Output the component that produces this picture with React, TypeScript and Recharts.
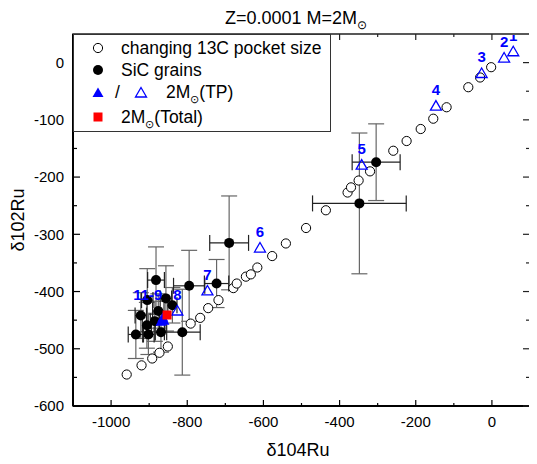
import React from "react";
import { ScatterChart, Scatter, XAxis, YAxis, ErrorBar, ReferenceArea } from "recharts";

// changing 13C pocket size (open circles)
const pocketSize: [number, number][] = [
  [-959, -545], [-920, -529], [-892, -517], [-873, -507], [-851, -496],
  [-791, -456], [-766, -446], [-745, -429], [-718, -415], [-679, -394],
  [-670, -386], [-646, -374], [-633, -370], [-616, -358], [-577, -338],
  [-541, -316], [-488, -289], [-436, -258], [-379, -227], [-370, -218],
  [-350, -206], [-320, -190], [-259, -154], [-224, -137], [-187, -116],
  [-154, -98], [-119, -78], [-62, -43], [-31, -26], [-2, -8],
];

// SiC grains: x, y, x error, y error
const sicGrains: [number, number, number, number][] = [
  [-882, -380, 22, 58], [-795, -390, 41, 62], [-905, -415, 15, 55],
  [-856, -412, 15, 57], [-839, -424, 12, 31], [-876, -434, 15, 30],
  [-922, -442, 15, 40], [-906, -459, 12, 40], [-885, -452, 12, 35],
  [-935, -475, 20, 42], [-902, -475, 15, 35], [-869, -471, 15, 35],
  [-813, -471, 47, 75], [-690, -315, 51, 82], [-723, -386, 32, 42],
  [-304, -174, 63, 67], [-348, -246, 123, 123],
];

// 2M TP (open triangles, numbered)
const tpOpen = [
  { x: 56, y: 19, label: "1" }, { x: 32, y: 8, label: "2" },
  { x: -27, y: -19, label: "3" }, { x: -147, y: -76, label: "4" },
  { x: -342, y: -179, label: "5" }, { x: -609, y: -324, label: "6" },
  { x: -747, y: -399, label: "7" }, { x: -826, y: -434, label: "8" },
];

// TP 9-11 (filled triangles)
const tpFilled = [
  { x: -864, y: -446, label: "11-9" }, { x: -869, y: -453, label: "" },
  { x: -861, y: -451, label: "" },
];

const total = [{ x: -853, y: -441 }];

const xTicks = [-1000, -900, -800, -700, -600, -500, -400, -300, -200, -100, 0];
const xLabels = [-1000, -800, -600, -400, -200, 0];
const yTicks = [-600, -550, -500, -450, -400, -350, -300, -250, -200, -150, -100, -50, 0];
const yLabels = [-600, -500, -400, -300, -200, -100, 0];

const F = '"Liberation Sans", Arial, Helvetica, sans-serif';
const W = 529;
const H = 456;
const TOP = 26;
const LEFT = 65;
const PH = 372;
const PW = 457;
const BLUE = "#0000ff";

const pocketData = pocketSize.map(([x, y]) => ({ x, y }));
const sicData = sicGrains.map(([x, y, ex, ey]) => ({ x, y, ex, ey }));

function XTick(props: any) {
  const { x, y, payload } = props;
  const v = payload.value;
  const major = xLabels.includes(v);
  const len = major ? 6 : 3;
  return (
    <g>
      <line x1={x} x2={x} y1={y} y2={y - len} stroke="#000" strokeWidth={1.2} />
      <line x1={x} x2={x} y1={y - PH} y2={y - PH + len} stroke="#222" strokeWidth={1.2} />
      {major && (
        <text x={x} y={y + 21} textAnchor="middle" fontSize={15} fontFamily={F} fill="#000">
          {v}
        </text>
      )}
    </g>
  );
}

function YTick(props: any) {
  const { x, y, payload } = props;
  const v = payload.value;
  const major = yLabels.includes(v);
  const len = major ? 7 : 4;
  return (
    <g>
      <line x1={x} x2={x + len} y1={y} y2={y} stroke="#000" strokeWidth={1.2} />
      <line x1={x + PW} x2={x + PW - len} y1={y} y2={y} stroke="#222" strokeWidth={1.2} />
      {major && (
        <text x={x - 9} y={y} dy="0.35em" textAnchor="end" fontSize={15} fontFamily={F} fill="#000">
          {v}
        </text>
      )}
    </g>
  );
}

const openCircle = (p: any) => (
  <circle cx={p.cx} cy={p.cy} r={4.6} fill="#fff" stroke="#000" strokeWidth={1} />
);

const filledCircle = (p: any) => <circle cx={p.cx} cy={p.cy} r={5} fill="#000" />;

const triPath = (cx: number, cy: number) =>
  `M${cx},${cy - 5.5} L${cx + 5.5},${cy + 4} L${cx - 5.5},${cy + 4} Z`;

// labels that run above the frame are cut off, as in the original plot
const openTri = (p: any) => (
  <g>
    {p.index === 0 && (
      <defs>
        <clipPath id="plot-clip">
          <rect x={LEFT} y={TOP + 1} width={PW} height={PH} />
        </clipPath>
      </defs>
    )}
    <path d={triPath(p.cx, p.cy)} fill="none" stroke={BLUE} strokeWidth={1.3} />
    <text
      x={p.cx}
      y={p.cy - 11}
      textAnchor="middle"
      fontSize={15}
      fontWeight="bold"
      fontFamily={F}
      fill={BLUE}
      clipPath="url(#plot-clip)"
    >
      {p.payload.label}
    </text>
  </g>
);

const filledTri = (p: any) => (
  <g>
    <path d={triPath(p.cx, p.cy)} fill={BLUE} />
    {p.payload.label && (
      <text x={p.cx - 15} y={p.cy - 18} textAnchor="middle" fontSize={15} fontWeight="bold" fontFamily={F} fill={BLUE}>
        {p.payload.label}
      </text>
    )}
  </g>
);

const redSquare = (p: any) => <rect x={p.cx - 4.5} y={p.cy - 4.5} width={9} height={9} fill="#ff0000" />;

const Sun = () => (
  <span style={{ fontSize: "0.65em", position: "relative", top: "0.45em" }}>⊙</span>
);

function LegendBox() {
  const row = (top: number): React.CSSProperties => ({
    position: "absolute",
    top,
    left: 0,
    right: 0,
    height: 20,
    display: "flex",
    alignItems: "center",
  });
  const txt = (left: number): React.CSSProperties => ({ position: "absolute", left, whiteSpace: "nowrap" });
  return (
    <div
      style={{
        position: "absolute",
        left: LEFT,
        top: TOP,
        width: 258,
        height: 98,
        border: "1.5px solid #333",
        background: "#fff",
        boxSizing: "border-box",
        fontSize: 17.5,
        fontFamily: F,
        color: "#000",
      }}
    >
      <div style={row(3)}>
        <svg width={14} height={14} style={{ position: "absolute", left: 17 }}>
          <circle cx={7} cy={7} r={4.6} fill="#fff" stroke="#000" />
        </svg>
        <span style={txt(47)}>changing 13C pocket size</span>
      </div>
      <div style={row(25)}>
        <svg width={14} height={14} style={{ position: "absolute", left: 17 }}>
          <circle cx={7} cy={7} r={5} fill="#000" />
        </svg>
        <span style={txt(47)}>SiC grains</span>
      </div>
      <div style={row(47)}>
        <svg width={14} height={14} style={{ position: "absolute", left: 17 }}>
          <path d={triPath(7, 8)} fill={BLUE} />
        </svg>
        <span style={txt(41)}>/</span>
        <svg width={14} height={14} style={{ position: "absolute", left: 60 }}>
          <path d={triPath(7, 8)} fill="none" stroke={BLUE} strokeWidth={1.3} />
        </svg>
        <span style={txt(92)}>
          2M<Sun />(TP)
        </span>
      </div>
      <div style={row(72)}>
        <svg width={14} height={14} style={{ position: "absolute", left: 17 }}>
          <rect x={2.5} y={2.5} width={9} height={9} fill="#ff0000" />
        </svg>
        <span style={txt(47)}>
          2M<Sun />(Total)
        </span>
      </div>
    </div>
  );
}

export default function App() {
  return (
    <div style={{ position: "relative", width: W, height: H, fontFamily: F, background: "#fff" }}>
      <ScatterChart width={W} height={H} margin={{ top: TOP, right: 7, bottom: 8, left: 8 }}>
        <ReferenceArea x1={-1100} x2={100} y1={-600} y2={50} fill="none" stroke="#222" strokeWidth={1.5} />
        <XAxis
          dataKey="x"
          type="number"
          domain={[-1100, 100]}
          allowDataOverflow
          ticks={xTicks}
          interval={0}
          tickSize={0}
          tickMargin={0}
          tick={XTick}
          height={50}
          axisLine={{ stroke: "#000", strokeWidth: 2 }}
        />
        <YAxis
          dataKey="y"
          type="number"
          domain={[-600, 50]}
          allowDataOverflow
          ticks={yTicks}
          interval={0}
          tickSize={0}
          tickMargin={0}
          tick={YTick}
          width={57}
          axisLine={{ stroke: "#000", strokeWidth: 2 }}
        />
        <Scatter data={pocketData} shape={openCircle} isAnimationActive={false} />
        <Scatter data={sicData} shape={filledCircle} isAnimationActive={false}>
          <ErrorBar dataKey="ey" direction="y" width={8} stroke="#666" strokeWidth={1.2} />
          <ErrorBar dataKey="ex" direction="x" width={8} stroke="#222" strokeWidth={1.2} />
        </Scatter>
        <Scatter data={tpOpen} shape={openTri} isAnimationActive={false} />
        <Scatter data={tpFilled} shape={filledTri} isAnimationActive={false} />
        <Scatter data={total} shape={redSquare} isAnimationActive={false} />
      </ScatterChart>
      <LegendBox />
      <div
        style={{
          position: "absolute",
          left: 0,
          width: 576,
          top: 0,
          textAlign: "center",
          fontSize: 18,
          whiteSpace: "nowrap",
          lineHeight: "20px",
        }}
      >
        Z=0.0001 M=2M<Sun />
      </div>
      <div style={{ position: "absolute", left: 0, width: 580, top: 432, textAlign: "center", fontSize: 18 }}>
        δ104Ru
      </div>
      <div
        style={{
          position: "absolute",
          left: 10,
          top: 212,
          fontSize: 18,
          transform: "translate(-50%, -50%) rotate(-90deg)",
          whiteSpace: "nowrap",
        }}
      >
        δ102Ru
      </div>
    </div>
  );
}
